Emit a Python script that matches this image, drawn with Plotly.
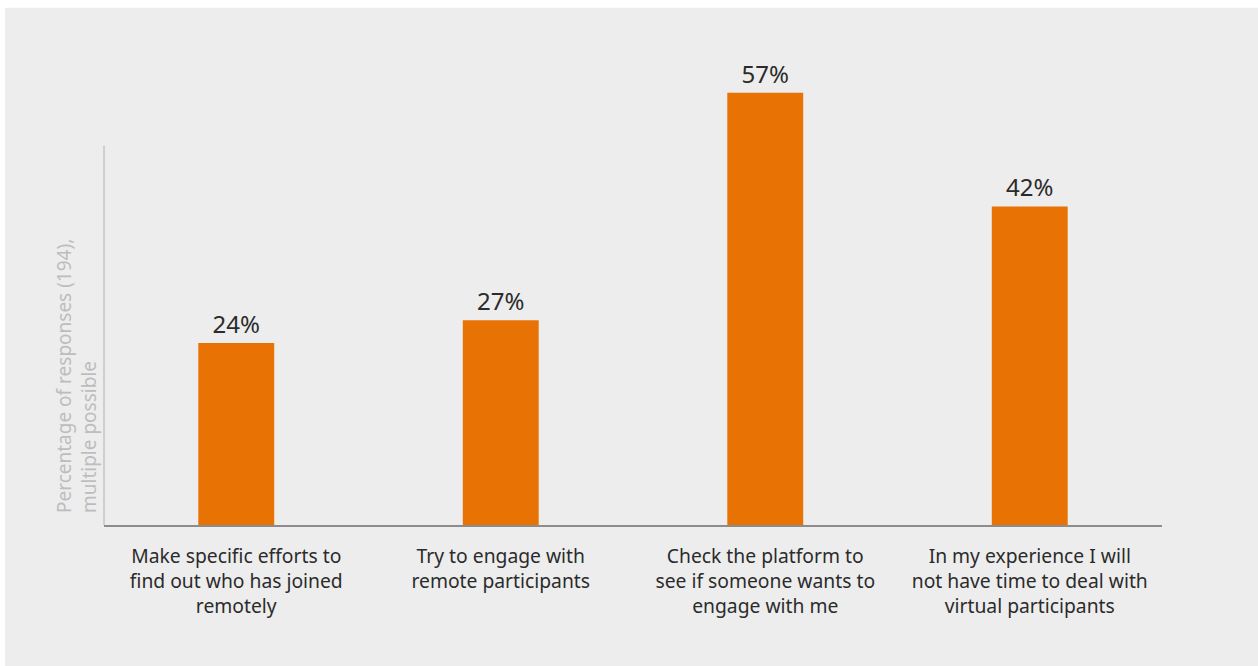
import plotly.graph_objects as go

# Survey answers and their share of responses (%)
categories = [
    "Make specific efforts to<br>find out who has joined<br>remotely",
    "Try to engage with<br>remote participants",
    "Check the platform to<br>see if someone wants to<br>engage with me",
    "In my experience I will<br>not have time to deal with<br>virtual participants",
]
values = [24, 27, 57, 42]
value_labels = [f"{v}%" for v in values]
y_title = "Percentage of responses (194),<br>multiple possible"

# The value axis is drawn from 0 to 50 %; taller bars run past its end
axis_top = 50
y_max = 65

W, H = 1258, 666
L, R, B = 104, 96, 141
plot_w = W - L - R
px_per_unit = 379 / axis_top
plot_h = px_per_unit * y_max
T = H - B - plot_h


def px_x(p):
    return (p - L) / plot_w


def px_y(p):
    return (H - B - p) / plot_h


fig = go.Figure(
    go.Bar(
        x=categories,
        y=values,
        text=value_labels,
        textposition="outside",
        textfont=dict(size=24, color="#2b2b2b"),
        marker=dict(color="#E97205", line=dict(width=0)),
        cliponaxis=False,
        width=0.287,
        hoverinfo="skip",
    )
)

fig.update_layout(
    width=W,
    height=H,
    margin=dict(l=L, r=R, t=T, b=B, pad=0),
    paper_bgcolor="white",
    plot_bgcolor="rgba(0,0,0,0)",
    font=dict(family="Noto Sans", color="#2b2b2b"),
    showlegend=False,
    xaxis=dict(
        showline=True,
        linecolor="#8c8c8c",
        linewidth=1.5,
        ticks="",
        showgrid=False,
        tickfont=dict(size=19.3, color="#2b2b2b"),
        ticklabelstandoff=13,
        fixedrange=True,
    ),
    yaxis=dict(
        range=[0, y_max],
        showline=False,
        showticklabels=False,
        ticks="",
        showgrid=False,
        zeroline=False,
        fixedrange=True,
    ),
    shapes=[
        dict(
            type="rect",
            xref="paper",
            yref="paper",
            x0=px_x(5),
            x1=px_x(W + 5),
            y0=px_y(H + 5),
            y1=px_y(8),
            fillcolor="#ededed",
            line=dict(width=0),
            layer="below",
        ),
        dict(
            type="line",
            xref="paper",
            yref="y",
            x0=0,
            x1=0,
            y0=0,
            y1=axis_top,
            line=dict(color="#b0b0b0", width=1),
        ),
    ],
    annotations=[
        dict(
            text=y_title,
            xref="paper",
            yref="paper",
            x=px_x(77),
            y=px_y(515),
            xanchor="center",
            yanchor="bottom",
            textangle=-90,
            align="left",
            showarrow=False,
            font=dict(size=19, color="#bdbdbd"),
        )
    ],
)

fig.write_html("out.html")
